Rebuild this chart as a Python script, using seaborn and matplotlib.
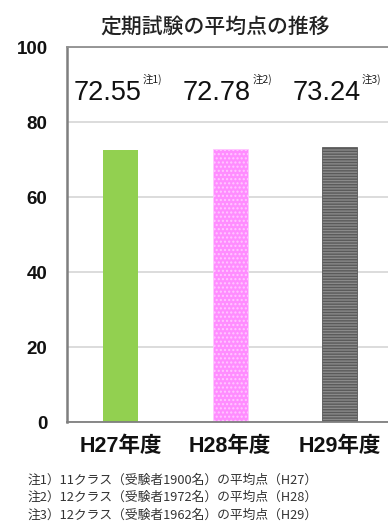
import matplotlib
matplotlib.use("Agg")
import matplotlib.pyplot as plt
import seaborn as sns
import pandas as pd

years = ["H27年度", "H28年度", "H29年度"]
scores = [72.55, 72.78, 73.24]
notes = ["注1)", "注2)", "注3)"]
footnotes = [
    "注1）11クラス（受験者1900名）の平均点（H27）",
    "注2）12クラス（受験者1972名）の平均点（H28）",
    "注3）12クラス（受験者1962名）の平均点（H29）",
]
colors = ["#92D050", "#FF8CFF", "#8A8A8A"]
hatches = [None, "....", "------"]
hatch_colors = ["#92D050", "#FFC8FF", "#5A5A5A"]
title = "定期試験の平均点の推移"

sns.set_theme(style="white")
plt.rcParams["font.family"] = ["Liberation Sans", "Noto Sans CJK JP", "DejaVu Sans"]
plt.rcParams["hatch.linewidth"] = 1.0

df = pd.DataFrame({"year": years, "score": scores})

fig = plt.figure(figsize=(3.88, 5.26), dpi=100)
ax = fig.add_axes([0.1727, 0.1977, 0.8273, 0.7129])

sns.barplot(data=df, x="year", y="score", hue="year", palette=colors,
            width=0.32, legend=False, ax=ax, saturation=1)

for patch, h, hc in zip(ax.patches, hatches, hatch_colors):
    if h:
        patch.set_hatch(h)
        patch.set_edgecolor(hc)
        patch.set_linewidth(0.6)
    else:
        patch.set_edgecolor(hc)
        patch.set_linewidth(0)

ax.set_ylim(0, 100)
ax.set_xlim(-0.49, 2.44)
ax.set_yticks([0, 20, 40, 60, 80, 100])
ax.yaxis.grid(True, color="#D9D9D9", linewidth=1.3)
ax.set_axisbelow(True)
ax.set_xlabel("")
ax.set_ylabel("")

ax.spines["right"].set_visible(False)
ax.spines["top"].set_color("#8F8F8F")
ax.spines["top"].set_linewidth(1.3)
ax.spines["left"].set_color("#7F7F7F")
ax.spines["left"].set_linewidth(1.8)
ax.spines["bottom"].set_color("#7F7F7F")
ax.spines["bottom"].set_linewidth(1.3)

ax.tick_params(axis="y", length=0, pad=14, labelsize=13.5)
ax.tick_params(axis="x", length=0, pad=10, labelsize=15.5)
for lbl in ax.get_yticklabels():
    lbl.set_fontweight("bold")
    lbl.set_color("#111111")
for lbl in ax.get_xticklabels():
    lbl.set_fontweight("bold")
    lbl.set_family(["Liberation Sans", "Noto Sans CJK JP"])
    lbl.set_color("#111111")

# value labels with note markers
for i, (v, n) in enumerate(zip(scores, notes)):
    t = ax.text(i - 0.12, 85.9, f"{v:.2f}", ha="center", va="baseline",
                fontsize=19.5, color="#111111")
    ax.annotate(n, xy=(1, 1), xycoords=t, xytext=(0.8, 0),
                textcoords="offset points", ha="left", va="center",
                fontsize=7.5, color="#222222", family=["Noto Sans CJK JP"])

fig.text(215 / 388, 1 - 27 / 526, title, ha="center", va="center",
         fontsize=15, fontweight="medium", color="#222222",
         family=["Noto Sans CJK JP"])

for k, line in enumerate(footnotes):
    fig.text(28 / 388, 1 - (480 + 17.5 * k) / 526, line, ha="left",
             va="center", fontsize=9.2, color="#333333",
             family=["Noto Sans CJK JP"])

fig.savefig("out.png", dpi=100)
